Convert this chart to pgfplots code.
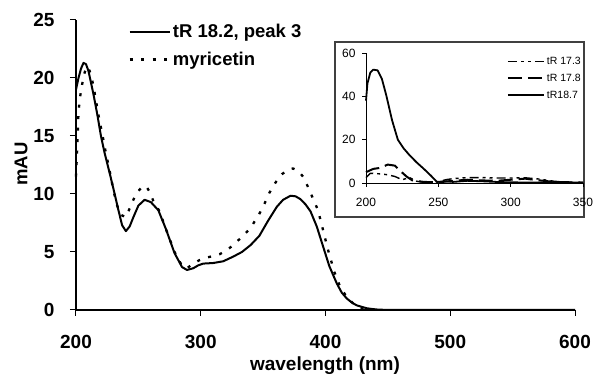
\documentclass[border=0pt]{standalone}
\usepackage{fontspec}
\setmainfont{Liberation Sans}
\usepackage{pgfplots}
\pgfplotsset{compat=1.18}
\begin{document}
\begin{tikzpicture}
\begin{axis}[
  at={(0pt,0pt)}, anchor=south west,
  scale only axis, width=499pt, height=290pt,
  xmin=200, xmax=600, ymin=0, ymax=25,
  axis x line*=bottom, axis y line*=left,
  axis line style={line width=1.1pt},
  xtick={200,300,400,500,600}, ytick={0,5,10,15,20,25},
  tick align=outside, major tick length=6pt,
  tick style={line width=1pt, black},
  /pgf/number format/assume math mode=true,
  ticklabel style={font=\bfseries\fontsize{19}{21}\selectfont},
  yticklabel style={xshift=-12pt},
  xticklabel style={yshift=-16pt},
  clip=false,
  legend style={draw=none, fill=none, at={(0.105,0.993)}, anchor=north west,
    font=\bfseries\fontsize{18.5}{20}\selectfont, row sep=9pt, inner sep=0pt,
    /tikz/every even column/.append style={column sep=2pt}},
  legend cell align=left,
  legend image code/.code={\draw[#1] (0pt,0pt) -- (40pt,0pt);},
]
\addplot[black, line width=2pt, line join=round] coordinates {
(200,19.0)(202,20.0)(204,20.8)(206,21.3)(208,21.2)(210,20.6)(212,19.6)(214,18.6)(217,16.9)(220,15.0)(223,13.5)(227,11.8)(231,10.0)(234,8.6)(237,7.3)(240,6.8)(243,7.2)(246,8.0)(250,9.0)(255,9.5)(260,9.3)(266,8.6)(272,7.0)(279,4.9)(285,3.7)(289,3.45)(294,3.6)(298,3.85)(302,4.0)(310,4.05)(318,4.2)(326,4.6)(333,5.0)(340,5.6)(347,6.4)(354,7.7)(361,8.9)(366,9.5)(372,9.85)(376,9.8)(380,9.55)(384,9.1)(388,8.5)(393,7.2)(398,5.5)(403,3.8)(409,2.3)(413,1.5)(417,1.0)(421,0.65)(425,0.4)(433,0.15)(440,0.05)(450,0)(600,0)
};
\addlegendentry{tR 18.2, peak 3}
\addplot[black, line width=2.3pt, dash pattern=on 3pt off 8.5pt] coordinates {
(200,11.5)(201,14)(202,17)(203,18.2)(205,19.5)(207,20.5)(209,21.0)(211,20.6)(213,19.8)(215,18.7)(218,16.8)(221,15.2)(224,13.5)(227,12.0)(230,10.3)(233,9.0)(236,8.2)(240,8.0)(244,9.0)(248,10.0)(252,10.5)(256,10.7)(259,10.2)(262,9.4)(267,8.5)(272,7.0)(279,5.0)(285,3.8)(289,3.6)(294,4.0)(299,4.3)(304,4.5)(310,4.65)(315,4.8)(320,5.1)(325,5.5)(330,6.0)(335,6.5)(340,7.1)(346,8.1)(350,8.9)(355,10.1)(360,11.0)(365,11.7)(370,12.1)(374,12.2)(378,12.0)(382,11.5)(386,10.6)(390,9.6)(394,8.6)(398,6.9)(402,5.2)(407,3.3)(411,2.2)(414,1.6)(418,1.0)(422,0.58)(426,0.3)(430,0.15)(436,0.05)(445,0)
};
\addlegendentry{myricetin}
\end{axis}
\node[rotate=90, font=\bfseries\fontsize{18.5}{20}\selectfont] at (-55pt,146pt) {mAU};
\node[anchor=north, inner sep=0pt, font=\bfseries\fontsize{19}{21}\selectfont] at (249pt,-47pt) {wavelength (nm)};
\draw[line width=1.2pt, black!75, fill=white] (259pt,93pt) rectangle (508pt,268pt);
\begin{axis}[
  at={(290pt,127pt)}, anchor=south west,
  scale only axis, width=217pt, height=130pt,
  xmin=200, xmax=350, ymin=0, ymax=60,
  axis x line*=bottom, axis y line*=left,
  axis line style={line width=0.9pt},
  xtick={200,250,300,350}, ytick={0,20,40,60},
  tick align=outside, major tick length=4pt,
  tick style={line width=0.8pt, black},
  /pgf/number format/assume math mode=true,
  ticklabel style={font=\fontsize{12}{14}\selectfont},
  xticklabel style={yshift=-8pt},
  yticklabel style={xshift=-3pt},
  clip=false,
  legend style={draw=none, fill=none, at={(1.0,0.985)}, anchor=north east,
    font=\fontsize{10.5}{12}\selectfont, row sep=4pt, inner sep=0pt,
    /tikz/every even column/.append style={column sep=1pt}},
  legend cell align=left,
  legend image code/.code={\draw[#1] (0pt,0pt) -- (36pt,0pt);},
]
\addplot[black, line width=1.4pt, dash pattern=on 9pt off 4pt on 3pt off 4pt on 3pt off 4pt] coordinates {
(200,2.5)(203,4.5)(210,4.2)(215,3.8)(220,3)(225,1.5)(230,2.5)(235,0.8)(240,0.3)(250,0.5)(255,1.5)(260,2)(270,2.5)(280,2.5)(290,2.3)(300,2.3)(310,2.4)(320,1.8)(330,0.8)(340,0.3)(350,0)
};
\addlegendentry{tR 17.3}
\addplot[black, line width=2pt, dash pattern=on 14pt off 6pt] coordinates {
(200,5)(205,6.5)(210,7)(215,8.5)(220,8)(223,6)(228,3)(232,1.2)(240,0.5)(250,0.3)(260,1)(270,1.5)(280,1.2)(290,1)(300,1.5)(310,2)(320,1.2)(330,0.5)(350,0.2)
};
\addlegendentry{tR 17.8}
\addplot[black, line width=1.8pt, line join=round] coordinates {
(200,38)(201,46)(203,51)(205,52.3)(208,52)(211,48)(214,40.5)(218,29)(222,20)(226,16)(230,12.9)(235,9.5)(240,6.5)(245,3.3)(249,0.5)(255,0.8)(260,0.5)(270,1)(280,0.8)(290,0.5)(300,0.3)(320,0.2)(350,0.2)
};
\addlegendentry{tR18.7}
\end{axis}
\pgfresetboundingbox
\path[use as bounding box] (-76pt,-69pt) rectangle (520pt,310pt);
\end{tikzpicture}
\end{document}
